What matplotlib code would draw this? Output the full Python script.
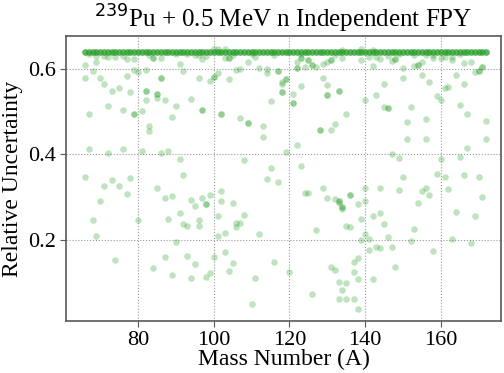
import matplotlib
matplotlib.use("Agg")
import matplotlib.pyplot as plt

plt.rcParams['font.family'] = ['Liberation Serif', 'DejaVu Serif']

# nuclides sitting at the 0.64 cap, one entry per mass (several nuclides each)
band_mass = [66, 67, 68, 69, 70, 71, 72, 73, 74, 75, 76, 77, 78, 79, 80, 81, 82, 83, 84, 85,
             86, 87, 88, 89, 90, 91, 92, 93, 94, 95, 96, 97, 98, 99, 100, 101, 102, 103, 104, 105,
             106, 107, 108, 109, 110, 111, 112, 113, 114, 115, 116, 117, 118, 119, 120, 121, 122, 123, 124, 125,
             126, 127, 128, 129, 130, 131, 132, 133, 134, 135, 136, 137, 138, 139, 140, 141, 142, 143, 144, 145,
             146, 147, 148, 149, 150, 151, 152, 153, 154, 155, 156, 157, 158, 159, 160, 161, 162, 163, 164, 165,
             166, 167, 168, 169, 170, 171, 172]
band_unc = [0.64] * len(band_mass)
n_per_mass = 4

# remaining nuclides
mass = [67, 69, 71, 72, 74, 76, 77, 79, 83, 84, 84, 86,
        69, 66, 68, 66, 70, 71, 73, 75, 77, 79, 80, 82, 78, 82, 82, 82, 85, 85, 85, 86, 86, 87, 90, 72,
        76, 81, 79, 79, 67, 89, 83, 83, 67, 72, 76, 81, 86, 88, 66, 73, 78,
        71, 75, 77, 70, 85, 87, 89, 68, 80, 88, 69, 90, 74, 87, 84, 89,
        90, 93, 95, 96, 98, 97, 100, 101, 103, 103, 104, 104, 105, 110, 111, 116,
        91, 92, 96, 99, 100, 100, 101, 104, 106, 107, 109, 112, 114, 114, 117, 117, 119, 119, 118, 118,
        118, 118, 115, 94, 97, 97, 102, 102, 107, 109, 109, 113, 113, 119, 91, 108, 92, 115, 114,
        117, 94, 97, 99, 102, 98, 98, 95, 102, 105, 91, 96, 92, 93, 96, 101, 108, 106, 107, 106,
        101, 103, 112, 103, 93, 100, 95, 105, 116, 104, 99, 98, 94, 111, 110,
        123, 123, 123, 125, 125, 126, 126, 127, 122, 122, 122, 124, 129, 130, 131, 131, 132, 134, 134, 139,
        139, 141, 142, 142, 143, 144, 146, 147, 148, 148,
        123, 129, 130, 133, 133, 130, 130, 121, 121, 121, 140, 145, 143, 145, 146, 146, 135, 132, 131, 128,
        128, 122, 147, 123,
        124, 125, 129, 130, 132, 133, 133, 133, 136, 136, 140, 144, 138, 140, 134, 134, 134, 142, 144, 139,
        145, 135, 136, 127, 140, 146, 139, 141, 141, 143, 144, 147, 138, 137, 131, 132, 120, 137, 148, 138,
        142, 133, 135, 134, 126, 133, 135, 137, 138,
        149, 153, 154, 154, 153, 155, 156, 158, 158, 160, 161, 163, 163, 165, 166, 168, 169, 170, 170, 171,
        171,
        150, 150, 155, 157, 161, 162, 164, 166, 159, 160, 152, 165, 167, 156, 151, 172, 151, 156, 172, 167,
        149, 160, 165, 150, 159, 161, 166, 170,
        149, 155, 156, 157, 154, 162, 171, 164, 169, 153, 163, 152, 168, 158]
unc = [0.635, 0.631, 0.630, 0.629, 0.629, 0.631, 0.623, 0.623, 0.633, 0.627, 0.627, 0.627,
       0.617, 0.609, 0.595, 0.578, 0.580, 0.564, 0.549, 0.555, 0.584, 0.598, 0.594, 0.598, 0.545, 0.549, 0.549, 0.527, 0.541, 0.541, 0.531, 0.578, 0.578, 0.527, 0.514, 0.514,
       0.505, 0.502, 0.495, 0.495, 0.495, 0.488, 0.466, 0.455, 0.413, 0.404, 0.413, 0.409, 0.404, 0.409, 0.348, 0.340, 0.344,
       0.326, 0.325, 0.307, 0.290, 0.320, 0.298, 0.303, 0.245, 0.247, 0.249, 0.208, 0.194, 0.153, 0.159, 0.133, 0.118,
       0.635, 0.635, 0.633, 0.634, 0.630, 0.623, 0.647, 0.647, 0.647, 0.625, 0.627, 0.627, 0.633, 0.635, 0.629, 0.633,
       0.612, 0.595, 0.580, 0.572, 0.581, 0.581, 0.590, 0.576, 0.598, 0.599, 0.616, 0.603, 0.599, 0.591, 0.596, 0.596, 0.576, 0.576, 0.570, 0.565,
       0.545, 0.545, 0.526, 0.529, 0.505, 0.505, 0.494, 0.494, 0.486, 0.473, 0.473, 0.466, 0.441, 0.406, 0.388, 0.387, 0.352, 0.369, 0.343,
       0.335, 0.294, 0.298, 0.305, 0.315, 0.284, 0.284, 0.280, 0.291, 0.286, 0.263, 0.247, 0.237, 0.233, 0.233, 0.255, 0.258, 0.239, 0.239, 0.230,
       0.209, 0.215, 0.214, 0.172, 0.162, 0.159, 0.144, 0.146, 0.147, 0.127, 0.122, 0.112, 0.111, 0.111, 0.050,
       0.635, 0.627, 0.627, 0.620, 0.620, 0.609, 0.609, 0.605, 0.616, 0.602, 0.602, 0.604, 0.612, 0.617, 0.620, 0.620, 0.633, 0.625, 0.645, 0.646,
       0.621, 0.629, 0.607, 0.645, 0.629, 0.623, 0.630, 0.619, 0.623, 0.623,
       0.560, 0.580, 0.562, 0.549, 0.549, 0.538, 0.538, 0.541, 0.521, 0.521, 0.527, 0.566, 0.538, 0.510, 0.508, 0.508, 0.495, 0.471, 0.458, 0.457,
       0.457, 0.421, 0.401, 0.373,
       0.309, 0.309, 0.320, 0.298, 0.296, 0.291, 0.291, 0.287, 0.305, 0.305, 0.320, 0.320, 0.284, 0.291, 0.276, 0.276, 0.272, 0.256, 0.263, 0.248,
       0.237, 0.231, 0.230, 0.222, 0.214, 0.206, 0.200, 0.201, 0.176, 0.182, 0.181, 0.182, 0.156, 0.148, 0.136, 0.130, 0.125, 0.124, 0.137, 0.108,
       0.107, 0.100, 0.098, 0.083, 0.072, 0.060, 0.060, 0.060, 0.038,
       0.635, 0.633, 0.609, 0.609, 0.607, 0.617, 0.633, 0.633, 0.625, 0.625, 0.629, 0.629, 0.621, 0.635, 0.613, 0.617, 0.594, 0.596, 0.596, 0.605,
       0.605,
       0.602, 0.580, 0.586, 0.569, 0.556, 0.559, 0.586, 0.566, 0.537, 0.527, 0.512, 0.515, 0.494, 0.483, 0.475, 0.479, 0.436, 0.435, 0.435, 0.414,
       0.391, 0.390, 0.393, 0.348, 0.355, 0.346, 0.352, 0.348,
       0.316, 0.313, 0.320, 0.304, 0.287, 0.319, 0.301, 0.266, 0.255, 0.226, 0.201, 0.197, 0.192, 0.174]

fig = plt.figure(figsize=(5.04, 3.73), dpi=100)
ax = fig.add_axes([0.131, 0.139, 0.863, 0.764])

green = '#2ca02c'
ax.scatter(band_mass * n_per_mass, band_unc * n_per_mass, s=22, color=green, alpha=0.3, linewidths=0)
ax.scatter(mass, unc, s=22, color=green, alpha=0.3, linewidths=0)

ax.set_xlim(60.97, 175.9)
ax.set_ylim(0.009, 0.677)
ax.set_xticks([80, 100, 120, 140, 160])
ax.set_yticks([0.2, 0.4, 0.6])
ax.grid(True, linestyle=':', color='0.6', linewidth=0.8)
ax.set_axisbelow(True)
for sp in ax.spines.values():
    sp.set_color('0.35')
    sp.set_linewidth(1.2)
ax.tick_params(labelsize=16, length=4, color='0.35', pad=3)

ax.set_title(r'$^{239}$Pu + 0.5 MeV n Independent FPY', fontsize=18)
ax.set_xlabel('Mass Number (A)', fontsize=17, labelpad=-1)
ax.set_ylabel('Relative Uncertainty', fontsize=17, labelpad=4)

fig.savefig('out.png', dpi=100)
